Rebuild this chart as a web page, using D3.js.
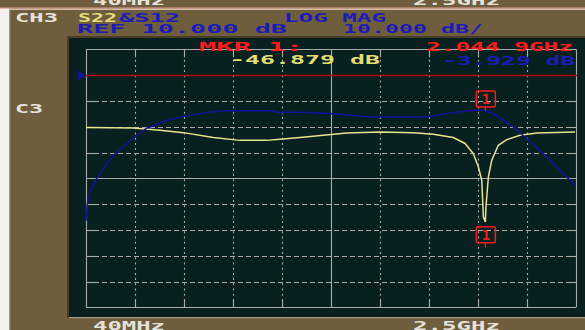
<!DOCTYPE html>
<html>
<head>
<meta charset="utf-8">
<script src="https://cdn.jsdelivr.net/npm/d3@7/dist/d3.min.js"></script>
<style>
  html, body { margin: 0; padding: 0; background: #f4f2ee; }
  svg { display: block; }
  text { font-family: "DejaVu Sans Mono", monospace; font-size: 12px; font-weight: bold; }
</style>
</head>
<body>
<svg id="chart" width="585" height="330"></svg>
<script>
// Sweep settings
const startMHz = 40;
const stopMHz = 2500;
const refDb = 10;
const dbPerDiv = 10;
const refDiv = 9;          // reference line sits 9 divisions up from the bottom
const xDivs = 10;
const yDivs = 10;

// S12 trace (blue): frequency in MHz, magnitude in dB
const s12Freq = [40, 46, 60, 94, 144, 194, 286, 345, 445, 532, 646, 728, 979, 997,
  1114, 1265, 1466, 1750, 1851, 1951, 2025, 2044.9, 2085, 2185, 2252, 2353, 2453, 2495];
const s12Db = [-46.5, -40, -35, -30, -24.2, -19.8, -14, -10.6, -7.5, -6.0, -4.5, -3.8, -3.8, -4.4,
  -4.4, -4.9, -6.2, -6.2, -4.9, -3.9, -3.5, -3.929, -4.9, -10.1, -14.6, -21.7, -29.5, -32.7];

// S22 trace (yellow)
const s22Freq = [40, 278, 412, 529, 679, 813, 947, 1014, 1114, 1180, 1349, 1516, 1683, 1784,
  1884, 1943, 1984, 2010, 2027, 2035, 2044.9, 2048, 2060, 2077, 2110, 2152, 2219, 2303, 2495];
const s22Db = [-10.35, -10.5, -11.4, -12.3, -14.2, -15.3, -15.3, -14.9, -14.2, -13.7, -12.4, -12.05,
  -12.3, -12.9, -14.2, -16.5, -20.4, -25.6, -30.8, -45, -46.879, -41, -29.5, -23, -17.2, -15, -13.3,
  -12.4, -12.05];

// Marker 1
const markerFreqMHz = 2044.9;
const markerS22Db = -46.879;
const markerS12Db = -3.929;

const headerLabels = ["CH3", "S22", "&S12", "LOG MAG", "REF 10.000 dB", "10.000 dB/"];
const freqLabels = ["40MHz", "2.5GHz"];

const svg = d3.select("#chart");

const C = {
  bezel: "#6e5e3e",
  screen: "#08201f",
  grid: "#a9adaa",
  yellow: "#e6e48c",
  yellowText: "#e4dc74",
  blue: "#12129c",
  blueText: "#1c1cb4",
  red: "#ff1a1a",
  refLine: "#b00818",
  light: "#e6e2da"
};

// Bezel and screen
svg.append("rect").attr("x", 0).attr("y", 0).attr("width", 585).attr("height", 330).attr("fill", "#f4f2ee");
svg.append("rect").attr("x", 9).attr("y", 0).attr("width", 576).attr("height", 330).attr("fill", C.bezel);
svg.append("rect").attr("x", 0).attr("y", 0).attr("width", 9).attr("height", 8).attr("fill", C.bezel);
svg.append("rect").attr("x", 0).attr("y", 7.5).attr("width", 585).attr("height", 1.2).attr("fill", "#e49a90");
svg.append("rect").attr("x", 9).attr("y", 8.7).attr("width", 576).attr("height", 1.3).attr("fill", "#cfc2a8");
svg.append("rect").attr("x", 9).attr("y", 10).attr("width", 1.3).attr("height", 320).attr("fill", "#a89878");
svg.append("rect").attr("x", 67).attr("y", 36).attr("width", 518).attr("height", 282).attr("fill", "#4a3c26");
svg.append("rect").attr("x", 69).attr("y", 38).attr("width", 516).attr("height", 279).attr("fill", C.screen);
svg.append("rect").attr("x", 69).attr("y", 317).attr("width", 516).attr("height", 1.2).attr("fill", "#a8987a");

// Scales
const x = d3.scaleLinear().domain([startMHz, stopMHz]).range([86, 576]);
const topDb = refDb + (yDivs - refDiv) * dbPerDiv;
const bottomDb = topDb - yDivs * dbPerDiv;
const y = d3.scaleLinear().domain([topDb, bottomDb]).range([49.3, 307.3]);

const xTicks = d3.range(xDivs + 1).map(i => startMHz + i * (stopMHz - startMHz) / xDivs);
const yTicks = d3.range(yDivs + 1).map(i => topDb - i * dbPerDiv);

const grid = svg.append("g").attr("stroke", C.grid).attr("stroke-width", 1.1).attr("fill", "none");
const [x0, x1] = x.range();
const [y0, y1] = y.range();
const tickLen = 8;

// Vertical division lines
xTicks.forEach((f, i) => {
  const px = Math.round(x(f)) + 0.5;
  const solid = i === 0 || i === xDivs || i === xDivs / 2;
  grid.append("line").attr("x1", px).attr("x2", px).attr("y1", y0).attr("y2", y1)
    .attr("stroke-dasharray", solid ? null : "2,3.2");
  if (!solid) {
    grid.append("line").attr("x1", px).attr("x2", px).attr("y1", y0).attr("y2", y0 + tickLen);
    grid.append("line").attr("x1", px).attr("x2", px).attr("y1", y1 - tickLen).attr("y2", y1);
  }
});
// Horizontal division lines (the reference level row carries the red line instead)
yTicks.forEach((d, i) => {
  if (d === refDb) return;
  const py = Math.round(y(d)) + 0.5;
  const solid = i === 0 || i === yDivs || i === yDivs / 2;
  grid.append("line").attr("x1", x0).attr("x2", x1).attr("y1", py).attr("y2", py)
    .attr("stroke-dasharray", solid ? null : "5,3");
  if (!solid) {
    grid.append("line").attr("x1", x0).attr("x2", x0 + tickLen + 3).attr("y1", py).attr("y2", py);
    grid.append("line").attr("x1", x1 - tickLen).attr("x2", x1).attr("y1", py).attr("y2", py);
  }
});

// Reference line and its pointer
const refY = Math.round(y(refDb)) + 0.5;
svg.append("line").attr("x1", x0).attr("x2", x1 + 1).attr("y1", refY).attr("y2", refY)
  .attr("stroke", C.refLine).attr("stroke-width", 1.3);
svg.append("path")
  .attr("d", `M78,${refY - 4.5}L86,${refY}L78,${refY + 4.5}Z`)
  .attr("fill", C.blue);

// Traces
const line = d3.line().x(d => x(d[0])).y(d => y(d[1])).curve(d3.curveLinear);
svg.append("path").datum(d3.zip(s22Freq, s22Db))
  .attr("d", line).attr("fill", "none").attr("stroke", C.yellow).attr("stroke-width", 1.5);
svg.append("path").datum(d3.zip(s12Freq, s12Db))
  .attr("d", line).attr("fill", "none").attr("stroke", C.blue).attr("stroke-width", 1.5);

// Marker 1 symbols
function markerBox(px, py, above) {
  const g = svg.append("g");
  const w = 19, h = 16;
  const by = above ? py - 4 - h : py + 5;
  g.append("rect").attr("x", px - w / 2 + 0.5).attr("y", by).attr("width", w).attr("height", h)
    .attr("rx", 1.5).attr("fill", "none").attr("stroke", C.red).attr("stroke-width", 1.5);
  g.append("text").attr("x", px + 0.5).attr("y", by + 13).attr("text-anchor", "middle")
    .attr("fill", C.red).style("font-size", "14px").text("1");
  if (above) {
    g.append("line").attr("x1", px).attr("x2", px).attr("y1", by + h).attr("y2", py)
      .attr("stroke", C.red).attr("stroke-width", 1.2);
  } else {
    g.append("line").attr("x1", px).attr("x2", px).attr("y1", by + h).attr("y2", by + h + 5)
      .attr("stroke", C.red).attr("stroke-width", 1.2);
  }
}
markerBox(x(markerFreqMHz), y(markerS12Db), true);
markerBox(x(markerFreqMHz), y(markerS22Db), false);

// Text helper: left edge, right edge, baseline
function label(str, xl, xr, base, color, size) {
  svg.append("text").attr("x", xl).attr("y", base)
    .attr("textLength", xr - xl).attr("lengthAdjust", "spacingAndGlyphs")
    .attr("fill", color).style("font-size", (size || 12) + "px").text(str);
}

// Header
label(freqLabels[0], 93, 165, 4.6, C.light, 12.5);
label(freqLabels[1], 413, 500, 4.6, C.light, 12.5);
label(headerLabels[0], 15, 58, 22.3, C.light);
label(headerLabels[1], 78, 117, 22.3, C.yellowText);
label(headerLabels[2], 119, 180, 22.3, C.blueText);
label(headerLabels[3], 284, 386, 22.3, C.blueText);
label(headerLabels[4], 77, 287, 32.8, C.blueText);
label(headerLabels[5], 343, 483, 32.8, C.blueText);
label("C3", 15, 43, 112.6, C.light);

// Marker readout
const fmtFreq = f => {
  const s = (f / 1000).toFixed(4);
  return s.slice(0, 5) + " " + s.slice(5) + "GHz";
};
label("MKR 1:", 199, 303, 50.7, C.red);
label(fmtFreq(markerFreqMHz), 426, 573, 50.7, C.red);
label(markerS22Db.toFixed(3) + " dB", 230, 380, 64.3, C.yellowText);
label(markerS12Db.toFixed(3) + " dB", 442, 575, 65, C.blueText);

// Sweep span along the bottom
label(freqLabels[0], 93, 165, 330, C.light, 12.5);
label(freqLabels[1], 413, 500, 330, C.light, 12.5);
</script>
</body>
</html>
